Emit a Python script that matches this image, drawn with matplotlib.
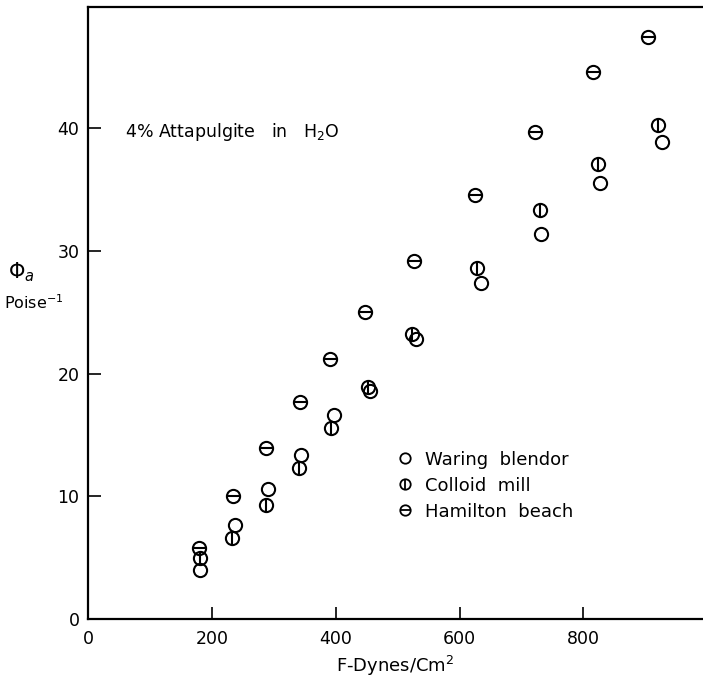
import matplotlib
matplotlib.use("Agg")
import matplotlib.pyplot as plt
from matplotlib.lines import Line2D
from matplotlib.legend_handler import HandlerTuple

# Data
waring_x = [181, 237, 291, 344, 398, 455, 530, 634, 732, 826, 927]
waring_y = [4.0, 7.7, 10.6, 13.4, 16.6, 18.6, 22.8, 27.4, 31.4, 35.5, 38.9]
colloid_x = [181, 232, 288, 341, 393, 452, 524, 628, 730, 823, 921]
colloid_y = [5.0, 6.6, 9.3, 12.3, 15.6, 18.9, 23.2, 28.6, 33.3, 37.1, 40.3]
hamilton_x = [180, 235, 287, 343, 391, 447, 526, 625, 722, 815, 904]
hamilton_y = [5.8, 10.0, 13.9, 17.7, 21.2, 25.0, 29.2, 34.6, 39.7, 44.6, 47.4]
labels = ["Waring  blendor", "Colloid  mill", "Hamilton  beach"]
x_ticks = [0, 200, 400, 600, 800]
y_ticks = [0, 10, 20, 30, 40]

fig = plt.figure(figsize=(7.03, 6.81), dpi=100)
ax = fig.add_axes([0.125, 0.091, 0.875, 0.899])

ms = 9.5
mew = 1.5
kw = dict(linestyle="none", color="black", markersize=ms, markeredgewidth=mew)
ax.plot(waring_x, waring_y, marker="o", markerfacecolor="none", **kw)
ax.plot(colloid_x, colloid_y, marker="o", markerfacecolor="none", **kw)
ax.plot(colloid_x, colloid_y, marker="|", **kw)
ax.plot(hamilton_x, hamilton_y, marker="o", markerfacecolor="none", **kw)
ax.plot(hamilton_x, hamilton_y, marker="_", **kw)

ax.set_xlim(0, 993)
ax.set_ylim(0, 49.9)
ax.set_xticks(x_ticks)
ax.set_yticks(y_ticks)
ax.tick_params(direction="in", length=9, width=1.2, labelsize=12.5, pad=6)
ax.tick_params(axis="x", pad=8)
ax.spines["right"].set_visible(False)
for s in ["left", "bottom", "top"]:
    ax.spines[s].set_linewidth(1.6)

ax.text(60, 39.7, "4% Attapulgite   in   H$_2$O", fontsize=12.5, va="center", ha="left")

ax.set_xlabel("F-Dynes/Cm$^2$", fontsize=13, labelpad=4)

fig.text(0.012, 0.600, r"$\Phi_a$", fontsize=15, ha="left", va="center")
fig.text(0.006, 0.556, "Poise$^{-1}$", fontsize=11.5, ha="left", va="center")

lkw = dict(linestyle="none", color="black", markersize=7.5, markeredgewidth=1.3)
h1 = Line2D([], [], marker="o", markerfacecolor="none", **lkw)
h2a = Line2D([], [], marker="o", markerfacecolor="none", **lkw)
h2b = Line2D([], [], marker="|", **lkw)
h3a = Line2D([], [], marker="o", markerfacecolor="none", **lkw)
h3b = Line2D([], [], marker="_", **lkw)
leg = ax.legend([h1, (h2a, h2b), (h3a, h3b)], labels,
                handler_map={tuple: HandlerTuple(ndivide=1, pad=0)},
                loc="upper left", bbox_to_anchor=(0.487, 0.29), frameon=False,
                fontsize=13, handlelength=1.0, handletextpad=0.6,
                labelspacing=0.45, borderpad=0)

fig.savefig("out.png", dpi=100)
